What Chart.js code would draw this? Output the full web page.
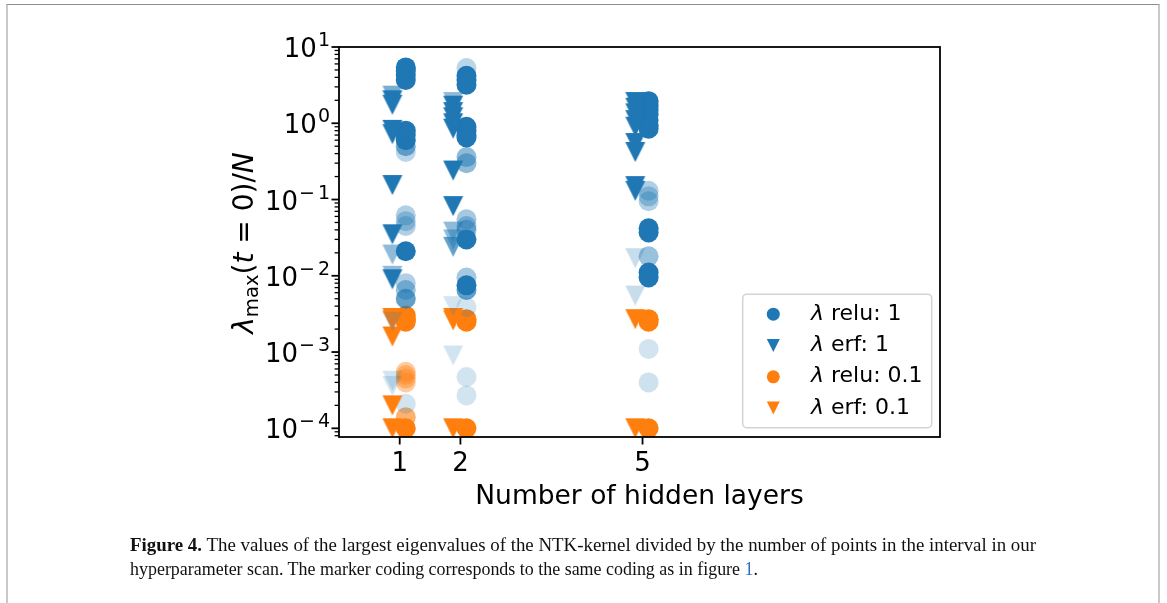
<!DOCTYPE html>
<html>
<head>
<meta charset="utf-8">
<script src="https://cdn.jsdelivr.net/npm/chart.js@4.4.1/dist/chart.umd.min.js"></script>
<style>
  html, body { margin: 0; padding: 0; background: #fff; width: 1167px; height: 603px; overflow: hidden; }
  #wrap { position: relative; width: 1167px; height: 603px; }
  #frame { position: absolute; left: 6px; top: 4px; width: 1154px; height: 700px; box-sizing: border-box;
           border-top: 1px solid #8c8c8c; border-left: 2px solid #c9c9c9; border-right: 2px solid #c9c9c9; }
  canvas { position: absolute; left: 0; top: 0; }
  .cap { position: absolute; left: 130px; font-family: "Liberation Serif", serif; font-size: 18px; line-height: 20px;
         color: #111; white-space: nowrap; transform-origin: 0 0; }
  .cap b { font-weight: bold; }
  .cap .ref { color: #2a6fbd; }
</style>
</head>
<body>
<div id="wrap">
  <div id="frame"></div>
  <canvas id="c" width="1167" height="603"></canvas>
  <div class="cap" id="cap1" data-w="906" style="top:535px"><b>Figure 4.</b> The values of the largest eigenvalues of the NTK-kernel divided by the number of points in the interval in our</div>
  <div class="cap" id="cap2" data-w="628" style="top:559px">hyperparameter scan. The marker coding corresponds to the same coding as in figure <span class="ref">1</span>.</div>
</div>
<script>
// ---- data -------------------------------------------------------------
const layers = [1, 2, 5];

// λ = 1, relu (circles): values per layer count, with per-point opacity
const reluOneValues = [
  [5.4, 4.9, 4.3, 3.7, 0.8, 0.7, 0.6, 0.5, 0.42, 0.062, 0.052, 0.045, 0.021, 0.008, 0.0065, 0.005, 0.00021],
  [5.3, 4.2, 3.7, 3.2, 0.9, 0.8, 0.7, 0.65, 0.36, 0.3, 0.055, 0.045, 0.04, 0.03, 0.0095, 0.0075, 0.0065, 0.0039, 0.00047, 0.00027],
  [1.95, 1.7, 1.5, 1.3, 1.1, 0.95, 0.85, 0.13, 0.11, 0.095, 0.042, 0.037, 0.018, 0.011, 0.0095, 0.0011, 0.0004]
];
const reluOneAlpha = [
  [1, 1, 1, 1, 1, 1, 1, 0.6, 0.3, 0.35, 0.35, 0.35, 1, 0.35, 0.45, 0.7, 0.2],
  [0.3, 1, 1, 1, 1, 1, 1, 1, 0.5, 0.5, 0.4, 0.4, 0.5, 1, 0.4, 1, 0.7, 0.2, 0.2, 0.2],
  [1, 1, 1, 1, 1, 1, 1, 0.35, 0.35, 0.35, 1, 1, 0.45, 1, 1, 0.2, 0.22]
];

// λ = 1, erf (triangles)
const erfOneValues = [
  [2.3, 2.0, 1.75, 0.82, 0.72, 0.155, 0.035, 0.019, 0.01, 0.009, 0.0025, 0.00042, 0.00036],
  [1.9, 1.7, 1.4, 1.2, 1.0, 0.85, 0.24, 0.082, 0.038, 0.03, 0.024, 0.004, 0.0009],
  [1.9, 1.6, 1.35, 1.1, 0.9, 0.55, 0.42, 0.15, 0.13, 0.017, 0.0055]
];
const erfOneAlpha = [
  [0.6, 1, 1, 1, 1, 1, 1, 0.5, 0.5, 1, 0.2, 0.2, 0.2],
  [0.5, 1, 1, 1, 1, 1, 1, 1, 0.5, 0.5, 0.7, 0.2, 0.2],
  [1, 1, 1, 1, 1, 1, 1, 1, 1, 0.25, 0.25]
];

// λ = 0.1, relu (circles)
const reluTenthValues = [
  [0.003, 0.0027, 0.0025, 0.00055, 0.0005, 0.00045, 0.0004, 0.00014, 0.0001],
  [0.0027, 0.0025, 0.0001],
  [0.0027, 0.0025, 0.0001]
];
const reluTenthAlpha = [
  [1, 1, 1, 0.4, 0.4, 0.4, 0.4, 0.6, 1],
  [1, 1, 1],
  [1, 1, 1]
];

// λ = 0.1, erf (triangles)
const erfTenthValues = [
  [0.0028, 0.0026, 0.0016, 0.0002, 0.0001],
  [0.0028, 0.0026, 0.0001],
  [0.0027, 0.0001]
];
const erfTenthAlpha = [
  [1, 1, 1, 1, 1],
  [1, 1, 1],
  [1, 1]
];

const seriesLabels = ['λ relu: 1', 'λ erf: 1', 'λ relu: 0.1', 'λ erf: 0.1'];
const yDecades = [-4, -3, -2, -1, 0, 1];
const xRange = [0, 9.9];
const yRange = [7.69e-5, 10];

// ---- styling ------------------------------------------------------------
const BLUE = [31, 119, 180];
const ORANGE = [255, 127, 14];
const rgba = (c, a) => `rgba(${c[0]},${c[1]},${c[2]},${a})`;
const FONT = '"DejaVu Sans", sans-serif';
const PLOT = { left: 339, top: 47, right: 940, bottom: 437 };
const W = 1167, H = 603;
const circleShift = 0.1, triangleShift = -0.12;

// downward triangle sprite (equal width and height), cached per colour
const spriteCache = {};
function triangleSprite(color, alpha) {
  const key = color.join(',') + '|' + alpha;
  if (spriteCache[key]) return spriteCache[key];
  const s = 22, c = document.createElement('canvas');
  c.width = s; c.height = s;
  const g = c.getContext('2d');
  g.fillStyle = rgba(color, alpha);
  g.beginPath();
  g.moveTo(1, 1); g.lineTo(s - 1, 1); g.lineTo(s / 2, s - 1); g.closePath();
  g.fill();
  spriteCache[key] = c;
  return c;
}

function points(values, alphas, shift) {
  const out = [];
  layers.forEach((L, i) => values[i].forEach((v, j) => out.push({ x: L + shift, y: v, a: alphas[i][j] })));
  return out;
}

function circleSet(label, values, alphas, color) {
  return {
    label, data: points(values, alphas, circleShift), order: 2,
    pointStyle: 'circle', pointRadius: 10, pointBorderWidth: 0,
    backgroundColor: ctx => rgba(color, ctx.raw ? ctx.raw.a : 1),
    borderColor: 'rgba(0,0,0,0)'
  };
}
function triangleSet(label, values, alphas, color) {
  return {
    label, data: points(values, alphas, triangleShift), order: 1,
    pointStyle: ctx => triangleSprite(color, ctx.raw ? ctx.raw.a : 1),
    pointRadius: 11, pointBorderWidth: 0,
    backgroundColor: rgba(color, 1), borderColor: 'rgba(0,0,0,0)'
  };
}

const datasets = [
  circleSet(seriesLabels[0], reluOneValues, reluOneAlpha, BLUE),
  triangleSet(seriesLabels[1], erfOneValues, erfOneAlpha, BLUE),
  circleSet(seriesLabels[2], reluTenthValues, reluTenthAlpha, ORANGE),
  triangleSet(seriesLabels[3], erfTenthValues, erfTenthAlpha, ORANGE)
];
const legendMarks = [
  { shape: 'circle', color: BLUE }, { shape: 'triangle', color: BLUE },
  { shape: 'circle', color: ORANGE }, { shape: 'triangle', color: ORANGE }
];

// ---- axes frame, ticks, log labels, y title and legend -------------------
const axesDecor = {
  id: 'axesDecor',
  afterDatasetsDraw(chart) {
    const { ctx, chartArea: a, scales: { x, y } } = chart;
    ctx.save();
    ctx.strokeStyle = '#000';
    // y ticks: decades and the 2..9 subdivisions
    const lo = Math.floor(Math.log10(yRange[0])), hi = Math.ceil(Math.log10(yRange[1]));
    for (let e = lo; e <= hi; e++) {
      for (let m = 1; m <= 9; m++) {
        const v = m * Math.pow(10, e);
        if (v < yRange[0] * 0.9999 || v > yRange[1] * 1.0001) continue;
        const py = y.getPixelForValue(v);
        const major = m === 1;
        ctx.lineWidth = major ? 1.8 : 1.3;
        ctx.beginPath();
        ctx.moveTo(a.left, py);
        ctx.lineTo(a.left - (major ? 7.5 : 4.4), py);
        ctx.stroke();
      }
    }
    // x ticks
    ctx.lineWidth = 1.8;
    layers.forEach(L => {
      const px = x.getPixelForValue(L);
      ctx.beginPath(); ctx.moveTo(px, a.bottom); ctx.lineTo(px, a.bottom + 7.5); ctx.stroke();
    });
    // frame
    ctx.lineWidth = 1.8;
    ctx.strokeRect(a.left, a.top, a.right - a.left, a.bottom - a.top);

    // y tick labels 10^k (minus sign in the exponent gets a little room after it)
    ctx.fillStyle = '#000';
    ctx.textBaseline = 'alphabetic';
    ctx.textAlign = 'left';
    const base = 26, sup = 19;
    yDecades.forEach(k => {
      const py = y.getPixelForValue(Math.pow(10, k));
      const sign = k < 0 ? '\u2212' : '';
      const digits = String(Math.abs(k));
      ctx.font = `${sup}px ${FONT}`;
      const sw = sign ? ctx.measureText(sign).width + 3 : 0;
      const dw = ctx.measureText(digits).width;
      ctx.font = `${base}px ${FONT}`;
      const bw = ctx.measureText('10').width;
      const right = a.left - 9;
      const baseLine = py + 10;
      const ex = right - sw - dw;
      ctx.fillText('10', ex - bw - 1, baseLine);
      ctx.font = `${sup}px ${FONT}`;
      if (sign) ctx.fillText(sign, ex, baseLine - 11);
      ctx.fillText(digits, ex + sw, baseLine - 11);
    });

    // y axis title λ_max(t = 0)/N, rotated
    const ts = 28;
    const parts = [
      { t: 'λ', f: `italic ${ts}px ${FONT}`, dy: 0 },
      { t: 'max', f: `${ts * 0.7}px ${FONT}`, dy: 5 },
      { t: '(', f: `${ts}px ${FONT}`, dy: 0 },
      { t: 't', f: `italic ${ts}px ${FONT}`, dy: 0 },
      { t: ' = ', f: `${ts}px ${FONT}`, dy: 0 },
      { t: '0)/', f: `${ts}px ${FONT}`, dy: 0 },
      { t: 'N', f: `italic ${ts}px ${FONT}`, dy: 0 }
    ];
    let total = 0;
    parts.forEach(p => { ctx.font = p.f; p.w = ctx.measureText(p.t).width; total += p.w; });
    ctx.save();
    ctx.translate(253, (a.top + a.bottom) / 2 + 1);
    ctx.rotate(-Math.PI / 2);
    let cx = -total / 2;
    parts.forEach(p => { ctx.font = p.f; ctx.fillText(p.t, cx, p.dy); cx += p.w; });
    ctx.restore();

    // legend
    const lw = 189, lh = 133.5;
    const lx = a.right - 8.3 - lw, ly = a.bottom - 9.3 - lh;
    ctx.beginPath();
    ctx.roundRect(lx, ly, lw, lh, 4);
    ctx.fillStyle = 'rgba(255,255,255,0.8)';
    ctx.fill();
    ctx.strokeStyle = '#d3d3d3';
    ctx.lineWidth = 1.5;
    ctx.stroke();
    const ls = 22;
    seriesLabels.forEach((lab, i) => {
      const cy = ly + 20 + i * 31.3;
      const mx = lx + 30.6;
      const m = legendMarks[i];
      ctx.fillStyle = rgba(m.color, 1);
      ctx.beginPath();
      if (m.shape === 'circle') {
        ctx.arc(mx, cy, 6.5, 0, Math.PI * 2);
      } else {
        ctx.moveTo(mx - 6.5, cy - 6.5); ctx.lineTo(mx + 6.5, cy - 6.5); ctx.lineTo(mx, cy + 6.5); ctx.closePath();
      }
      ctx.fill();
      ctx.fillStyle = '#000';
      const tx = lx + 68.3, tb = cy + 5.5;
      ctx.font = `italic ${ls}px ${FONT}`;
      ctx.fillText(lab[0], tx, tb);
      const w0 = ctx.measureText(lab[0]).width;
      ctx.font = `${ls}px ${FONT}`;
      ctx.fillText(lab.slice(1), tx + w0, tb);
    });
    ctx.restore();
  }
};

new Chart(document.getElementById('c'), {
  type: 'scatter',
  data: { datasets },
  options: {
    responsive: false,
    animation: false,
    events: [],
    layout: { padding: { left: 0, top: PLOT.top, right: W - PLOT.right, bottom: 0 } },
    plugins: { legend: { display: false }, tooltip: { enabled: false } },
    scales: {
      x: {
        type: 'linear', min: xRange[0], max: xRange[1],
        afterBuildTicks(s) { s.ticks = layers.map(v => ({ value: v })); },
        afterFit(s) { s.height = H - PLOT.bottom; },
        ticks: { font: { family: FONT, size: 26 }, color: '#000', padding: 5, autoSkip: false, maxRotation: 0,
                 callback: v => String(v) },
        grid: { display: false, drawTicks: true, tickLength: 7 },
        border: { display: false },
        title: { display: true, text: 'Number of hidden layers', color: '#000',
                 font: { family: FONT, size: 26.5 }, padding: { top: 0, bottom: 90 } }
      },
      y: {
        type: 'logarithmic', min: yRange[0], max: yRange[1],
        afterFit(s) { s.width = PLOT.left; },
        ticks: { display: false },
        grid: { display: false, drawTicks: false },
        border: { display: false }
      }
    }
  },
  plugins: [axesDecor]
});

// caption lines: condense the serif face to its column width
document.querySelectorAll('.cap').forEach(el => {
  const w = el.getBoundingClientRect().width;
  el.style.transform = `scaleX(${(+el.dataset.w) / w})`;
});
</script>
</body>
</html>
